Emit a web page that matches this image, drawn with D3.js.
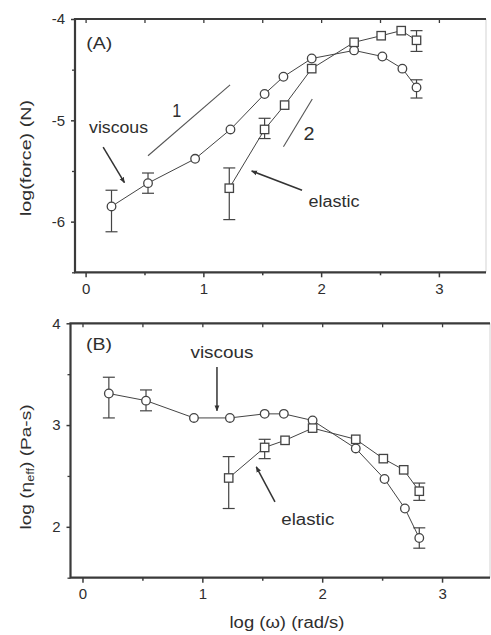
<!DOCTYPE html>
<html>
<head>
<meta charset="utf-8">
<script src="https://cdn.jsdelivr.net/npm/d3@7"></script>
<style>
  html, body { margin: 0; padding: 0; background: #fff; }
  svg { display: block; }
  text { font-family: "Liberation Sans", Arial, sans-serif; fill: #2e2e2e; }
</style>
</head>
<body>
<svg id="chart" width="491" height="635"></svg>
<script>
// log(omega) sampling points (rad/s)
const logOmegaViscous = [0.22, 0.53, 0.93, 1.23, 1.52, 1.68, 1.92, 2.28, 2.52, 2.69, 2.81];
const logOmegaElastic = [1.22, 1.52, 1.69, 1.92, 2.28, 2.51, 2.68, 2.81];

// (A) log(force) in N
const forceViscous     = [-5.85, -5.62, -5.38, -5.09, -4.74, -4.57, -4.39, -4.31, -4.37, -4.49, -4.675];
const forceViscousLo   = [-6.10, -5.72, null, null, null, null, null, null, null, null, -4.78];
const forceViscousHi   = [-5.69, -5.52, null, null, null, null, null, null, null, null, -4.60];
const forceElastic     = [-5.67, -5.09, -4.85, -4.49, -4.23, -4.165, -4.115, -4.21];
const forceElasticLo   = [-5.98, -5.18, null, null, null, null, null, -4.32];
const forceElasticHi   = [-5.47, -4.98, null, null, null, null, null, -4.115];

// (B) log(eta_eff) in Pa-s
const etaViscous       = [3.31, 3.24, 3.07, 3.07, 3.11, 3.11, 3.045, 2.77, 2.47, 2.18, 1.89];
const etaViscousLo     = [3.07, 3.14, null, null, null, null, null, null, null, null, 1.79];
const etaViscousHi     = [3.47, 3.345, null, null, null, null, null, null, null, null, 1.99];
const etaElastic       = [2.48, 2.78, 2.85, 2.97, 2.86, 2.67, 2.56, 2.35];
const etaElasticLo     = [2.18, 2.67, null, null, null, null, null, 2.26];
const etaElasticHi     = [2.69, 2.86, null, null, null, null, null, 2.43];

// Axis ticks
const xMajorTicks = [0, 1, 2, 3];
const xMinorTicks = [0.5, 1.5, 2.5];
const xTopTicks   = [0, 0.5, 1, 1.5, 2, 2.5, 3];
const yTicksA = [-6, -5, -4];
const yMinorA = [-6.5, -5.5, -4.5];
const yTicksB = [2, 3, 4];
const yMinorB = [1.5, 2.5, 3.5];

// Slope guide lines in panel A (slope 1 and slope 2)
const slopeOne = [[0.53, -5.35], [1.227, -4.65]];
const slopeTwo = [[1.68, -5.26], [1.925, -4.79]];

const svg = d3.select("#chart");
const axisColor = "#3a3a3a";
const markColor = "#444";
const fontStack = "'Liberation Sans', Arial, sans-serif";

const defs = svg.append("defs");
defs.append("marker")
  .attr("id", "arrow")
  .attr("viewBox", "0 0 10 10")
  .attr("refX", 9).attr("refY", 5)
  .attr("markerWidth", 6).attr("markerHeight", 6)
  .attr("markerUnits", "userSpaceOnUse")
  .attr("orient", "auto")
  .append("path")
  .attr("d", "M0,1 L10,5 L0,9 Z")
  .attr("fill", "#333");

function drawPanel(cfg) {
  const x = d3.scaleLinear().domain(cfg.xDomain).range(cfg.xRange);
  const y = d3.scaleLinear().domain(cfg.yDomain).range(cfg.yRange);
  const g = svg.append("g");
  const [x0, x1] = cfg.xRange;
  const [yb, yt] = cfg.yRange;

  // Right frame edge (faint)
  g.append("line").attr("x1", x1).attr("x2", x1).attr("y1", yt).attr("y2", yb)
    .attr("stroke", "#e2e2e2").attr("stroke-width", 1.5);

  // Bottom axis
  const bottom = g.append("g").attr("transform", `translate(0,${yb})`);
  bottom.call(d3.axisBottom(x).tickValues(xMajorTicks).tickSize(5).tickPadding(6)
      .tickFormat(d => d.toString()))
    .call(s => s.select(".domain").remove())
    .call(s => s.selectAll("line").attr("stroke", axisColor).attr("stroke-width", 1.5))
    .call(s => s.selectAll("text").attr("font-size", 15).attr("fill", "#2e2e2e")
      .style("font-family", fontStack));
  bottom.append("g").call(d3.axisBottom(x).tickValues(xMinorTicks).tickSize(3).tickFormat(""))
    .call(s => s.select(".domain").remove())
    .call(s => s.selectAll("line").attr("stroke", axisColor).attr("stroke-width", 1.5));

  // Top axis, ticks pointing inward
  g.append("g").attr("transform", `translate(0,${yt})`)
    .call(d3.axisBottom(x).tickValues(xTopTicks).tickSize(4).tickFormat(""))
    .call(s => s.select(".domain").remove())
    .call(s => s.selectAll("line").attr("stroke", axisColor).attr("stroke-width", 1.3));

  // Left axis
  const left = g.append("g").attr("transform", `translate(${x0},0)`);
  left.call(d3.axisLeft(y).tickValues(cfg.yTicks).tickSize(4).tickPadding(6)
      .tickFormat(d => d.toString()))
    .call(s => s.select(".domain").remove())
    .call(s => s.selectAll("line").attr("stroke", axisColor).attr("stroke-width", 1.5))
    .call(s => s.selectAll("text").attr("font-size", 15).attr("fill", "#2e2e2e")
      .style("font-family", fontStack));
  left.append("g").call(d3.axisLeft(y).tickValues(cfg.yMinor).tickSize(3).tickFormat(""))
    .call(s => s.select(".domain").remove())
    .call(s => s.selectAll("line").attr("stroke", axisColor).attr("stroke-width", 1.3));

  // Frame lines: left, top, bottom
  g.append("path")
    .attr("d", `M${x1},${yt} L${x0},${yt} L${x0},${yb} L${x1},${yb}`)
    .attr("fill", "none").attr("stroke", axisColor).attr("stroke-width", 2.2);

  // Series
  cfg.series.forEach(s => {
    const pts = s.xs.map((xv, i) => ({ x: xv, y: s.ys[i], lo: s.lo[i], hi: s.hi[i] }));
    g.append("path").datum(pts)
      .attr("d", d3.line().x(d => x(d.x)).y(d => y(d.y)))
      .attr("fill", "none").attr("stroke", markColor).attr("stroke-width", 1);

    const eb = g.append("g").selectAll("g").data(pts.filter(d => d.lo != null)).join("g");
    eb.append("line")
      .attr("x1", d => x(d.x)).attr("x2", d => x(d.x))
      .attr("y1", d => y(d.lo)).attr("y2", d => y(d.hi))
      .attr("stroke", markColor).attr("stroke-width", 1.2);
    [d => d.lo, d => d.hi].forEach(f => {
      eb.append("line")
        .attr("x1", d => x(d.x) - 6).attr("x2", d => x(d.x) + 6)
        .attr("y1", d => y(f(d))).attr("y2", d => y(f(d)))
        .attr("stroke", markColor).attr("stroke-width", 1.2);
    });

    if (s.shape === "circle") {
      g.append("g").selectAll("circle").data(pts).join("circle")
        .attr("cx", d => x(d.x)).attr("cy", d => y(d.y)).attr("r", 4.3)
        .attr("fill", "#fff").attr("stroke", markColor).attr("stroke-width", 1.3);
    } else {
      g.append("g").selectAll("rect").data(pts).join("rect")
        .attr("x", d => x(d.x) - 4.2).attr("y", d => y(d.y) - 4.2)
        .attr("width", 8.4).attr("height", 8.4)
        .attr("fill", "#fff").attr("stroke", markColor).attr("stroke-width", 1.3);
    }
  });

  // Guide lines
  (cfg.guides || []).forEach(seg => {
    g.append("line")
      .attr("x1", x(seg[0][0])).attr("y1", y(seg[0][1]))
      .attr("x2", x(seg[1][0])).attr("y2", y(seg[1][1]))
      .attr("stroke", "#555").attr("stroke-width", 1.1);
  });

  // Arrows
  (cfg.arrows || []).forEach(a => {
    g.append("line")
      .attr("x1", x(a[0][0])).attr("y1", y(a[0][1]))
      .attr("x2", x(a[1][0])).attr("y2", y(a[1][1]))
      .attr("stroke", "#333").attr("stroke-width", 1.5)
      .attr("marker-end", "url(#arrow)");
  });

  // Labels
  (cfg.labels || []).forEach(l => {
    g.append("text")
      .attr("x", x(l.x)).attr("y", y(l.y))
      .attr("text-anchor", "middle")
      .attr("font-size", l.size)
      .attr("textLength", l.len).attr("lengthAdjust", "spacingAndGlyphs")
      .text(l.text);
  });

  return { x, y };
}

drawPanel({
  xDomain: [-0.09, 3.4], xRange: [75, 486],
  yDomain: [-6.5, -4], yRange: [272.3, 19],
  yTicks: yTicksA, yMinor: yMinorA,
  series: [
    { xs: logOmegaViscous, ys: forceViscous, lo: forceViscousLo, hi: forceViscousHi, shape: "circle" },
    { xs: logOmegaElastic, ys: forceElastic, lo: forceElasticLo, hi: forceElasticHi, shape: "square" }
  ],
  guides: [slopeOne, slopeTwo],
  arrows: [
    [[0.149, -5.265], [0.33, -5.615]],
    [[1.838, -5.69], [1.41, -5.50]]
  ],
  labels: [
    { text: "(A)", x: 0.115, y: -4.296, size: 16, len: 26 },
    { text: "1", x: 0.774, y: -4.968, size: 19, len: 9 },
    { text: "2", x: 1.897, y: -5.196, size: 19, len: 11 },
    { text: "viscous", x: 0.28, y: -5.127, size: 16, len: 59 },
    { text: "elastic", x: 2.11, y: -5.858, size: 16, len: 51 }
  ]
});

drawPanel({
  xDomain: [-0.1, 3.4], xRange: [70.5, 490],
  yDomain: [1.5, 4], yRange: [577.7, 323.3],
  yTicks: yTicksB, yMinor: yMinorB,
  series: [
    { xs: logOmegaViscous, ys: etaViscous, lo: etaViscousLo, hi: etaViscousHi, shape: "circle" },
    { xs: logOmegaElastic, ys: etaElastic, lo: etaElasticLo, hi: etaElasticHi, shape: "square" }
  ],
  arrows: [
    [[1.122, 3.57], [1.122, 3.14]],
    [[1.606, 2.245], [1.45, 2.59]]
  ],
  labels: [
    { text: "(B)", x: 0.138, y: 3.74, size: 16, len: 26 },
    { text: "viscous", x: 1.164, y: 3.66, size: 16, len: 63 },
    { text: "elastic", x: 1.88, y: 2.02, size: 16, len: 53 }
  ]
});

// Axis titles
svg.append("text")
  .attr("x", 287).attr("y", 628)
  .attr("text-anchor", "middle").attr("font-size", 16)
  .attr("textLength", 115).attr("lengthAdjust", "spacingAndGlyphs")
  .text("log (ω) (rad/s)");

svg.append("text")
  .attr("transform", "translate(31,158) rotate(-90)")
  .attr("text-anchor", "middle").attr("font-size", 15)
  .attr("textLength", 116).attr("lengthAdjust", "spacingAndGlyphs")
  .text("log(force) (N)");

const yTitleB = svg.append("text")
  .attr("transform", "translate(31,467) rotate(-90)")
  .attr("text-anchor", "middle").attr("font-size", 15)
  .attr("textLength", 125).attr("lengthAdjust", "spacingAndGlyphs");
yTitleB.append("tspan").text("log (η");
yTitleB.append("tspan").attr("font-size", 10).attr("dy", 3).text("eff");
yTitleB.append("tspan").attr("dy", -3).text(") (Pa-s)");
</script>
</body>
</html>
